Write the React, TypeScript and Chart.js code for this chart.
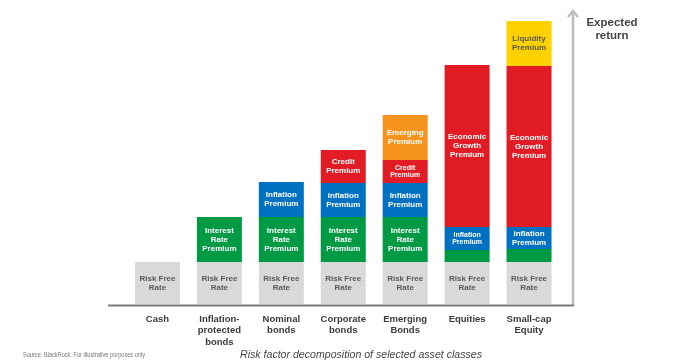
import React, { useEffect, useRef } from "react";
import { Chart, registerables } from "chart.js";
Chart.register(...registerables);

const categories = [
  ["Cash"],
  ["Inflation-", "protected", "bonds"],
  ["Nominal", "bonds"],
  ["Corporate", "bonds"],
  ["Emerging", "Bonds"],
  ["Equities"],
  ["Small-cap", "Equity"],
];
const riskFree = [42, 42, 42, 42, 42, 42, 42];
const interestRate = [0, 45, 45, 45, 45, 12, 13];
const inflation = [0, 0, 35, 34, 34, 23, 22];
const credit = [0, 0, 0, 33, 23, 0, 0];
const emerging = [0, 0, 0, 0, 45, 0, 0];
const growth = [0, 0, 0, 0, 0, 162, 161];
const liquidity = [0, 0, 0, 0, 0, 0, 45];

const seriesNames = [
  "Risk Free Rate",
  "Interest Rate Premium",
  "Inflation Premium",
  "Credit Premium",
  "Emerging Premium",
  "Economic Growth Premium",
  "Liquidity Premium",
];
const segmentLabels = [
  ["Risk Free", "Rate"],
  ["Interest", "Rate", "Premium"],
  ["Inflation", "Premium"],
  ["Credit", "Premium"],
  ["Emerging", "Premium"],
  ["Economic", "Growth", "Premium"],
  ["Liquidity", "Premium"],
];
// segments whose label is printed in the smaller type: [series index, category index]
const smallLabelSegments = [
  [2, 5],
  [3, 4],
];
const yAxisTitle = ["Expected", "return"];
const chartTitle = "Risk factor decomposition of selected asset classes";
const sourceNote = "Source: BlackRock. For illustrative purposes only";

const seriesValues = [riskFree, interestRate, inflation, credit, emerging, growth, liquidity];
const colors = ["#d9d9d9", "#009a44", "#0071c1", "#e21c24", "#f7941e", "#ffd100"];
const seriesColors = [colors[0], colors[1], colors[2], colors[3], colors[4], colors[3], colors[5]];
const textColors = ["#5a5a5a", "#fff", "#fff", "#fff", "#fff", "#fff", "#5a5a40"];
const FONT = "'Liberation Sans', Arial, sans-serif";

const labelPlugin = {
  id: "labels",
  afterDatasetsDraw(chart: any) {
    const ctx = chart.ctx;
    const xs = chart.scales.x;
    const ys = chart.scales.y;
    ctx.save();
    // segment labels
    chart.data.datasets.forEach((ds: any, di: number) => {
      const meta = chart.getDatasetMeta(di);
      meta.data.forEach((el: any, i: number) => {
        const v = ds.data[i];
        if (!v) return;
        const p = el.getProps(["x", "y", "base"], true);
        const h = Math.abs(p.base - p.y);
        if (h < 16) return;
        const lines = segmentLabels[di];
        const small = smallLabelSegments.some((s) => s[0] === di && s[1] === i);
        const fs = small ? 7 : 8;
        const lh = small ? 7.6 : 9;
        ctx.font = `bold ${fs}px ${FONT}`;
        ctx.fillStyle = textColors[di];
        ctx.textAlign = "center";
        ctx.textBaseline = "middle";
        const cy = (p.y + p.base) / 2;
        lines.forEach((t: string, k: number) => {
          ctx.fillText(t, p.x, cy + (k - (lines.length - 1) / 2) * lh);
        });
      });
    });
    // axes
    const baseY = ys.getPixelForValue(0) + 1.5;
    const axisX = 573;
    ctx.strokeStyle = "#bdbdbd";
    ctx.lineWidth = 2.5;
    ctx.beginPath();
    ctx.moveTo(axisX, baseY);
    ctx.lineTo(axisX, 11);
    ctx.stroke();
    ctx.beginPath();
    ctx.moveTo(axisX - 5, 17);
    ctx.lineTo(axisX, 11);
    ctx.lineTo(axisX + 5, 17);
    ctx.stroke();
    ctx.strokeStyle = "#7a7a7a";
    ctx.lineWidth = 2;
    ctx.beginPath();
    ctx.moveTo(108, baseY);
    ctx.lineTo(axisX + 1, baseY);
    ctx.stroke();
    // category labels
    ctx.font = `bold 9.5px ${FONT}`;
    ctx.fillStyle = "#3a3a3a";
    ctx.textAlign = "center";
    ctx.textBaseline = "middle";
    categories.forEach((lines, i) => {
      const x = xs.getPixelForValue(i);
      lines.forEach((t, k) => ctx.fillText(t, x, 319.5 + k * 11.2));
    });
    // y axis title
    ctx.font = `bold 11.5px ${FONT}`;
    ctx.fillStyle = "#454545";
    yAxisTitle.forEach((t, k) => ctx.fillText(t, 612, 23 + k * 12.5));
    // title
    ctx.font = `italic 10.6px ${FONT}`;
    ctx.fillStyle = "#444";
    ctx.fillText(chartTitle, 361, 355.5);
    // source note (condensed to fit)
    ctx.font = `7px ${FONT}`;
    ctx.fillStyle = "#777";
    ctx.textAlign = "left";
    const w = ctx.measureText(sourceNote).width;
    ctx.translate(23, 355.5);
    ctx.scale(122 / w, 1);
    ctx.fillText(sourceNote, 0, 0);
    ctx.restore();
  },
};

export default function App() {
  const ref = useRef<HTMLCanvasElement>(null);
  useEffect(() => {
    document.body.style.margin = "0";
    const chart = new Chart(ref.current!, {
      type: "bar",
      data: {
        labels: categories.map((c) => c.join(" ")),
        datasets: seriesValues.map((vals, i) => ({
          label: seriesNames[i],
          data: vals,
          backgroundColor: seriesColors[i],
          borderWidth: 0,
          categoryPercentage: 1,
          barPercentage: 0.727,
        })),
      },
      options: {
        responsive: false,
        animation: false,
        layout: { padding: { left: 126.5, right: 114, top: 10, bottom: 59 } },
        plugins: { legend: { display: false }, tooltip: { enabled: false } },
        scales: {
          x: { stacked: true, display: false },
          y: { stacked: true, display: false, min: 0, max: 294 },
        },
      },
      plugins: [labelPlugin],
    });
    return () => chart.destroy();
  }, []);
  return (
    <div style={{ width: 674, height: 363, background: "#fff" }}>
      <canvas ref={ref} width={674} height={363} style={{ display: "block" }} />
    </div>
  );
}
